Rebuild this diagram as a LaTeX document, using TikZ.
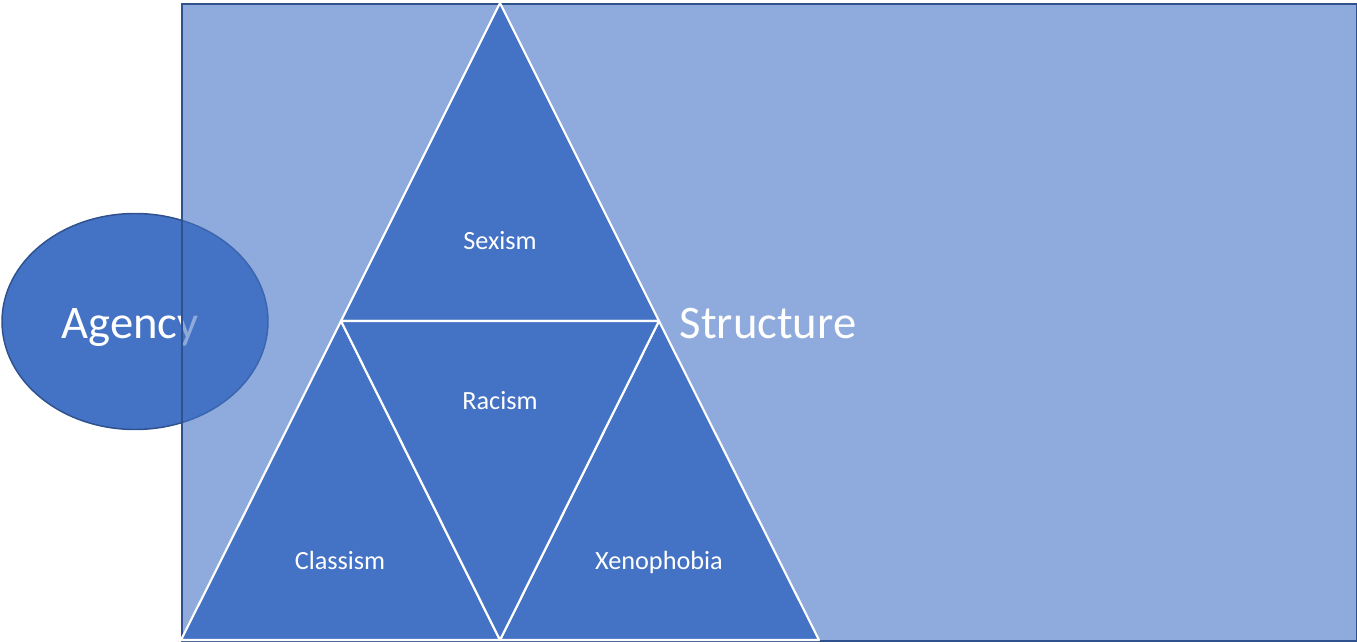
\documentclass[tikz,border=0pt]{standalone}
\usepackage{fontspec}
\setmainfont{Carlito}
\usetikzlibrary{shapes.geometric, positioning}
\definecolor{accent}{HTML}{4472C4}
\definecolor{edgeblue}{HTML}{2F528F}
\tikzset{
x=0.75pt, y=-0.75pt, % one unit is one pixel of the reference
panel/.style={draw=edgeblue, line width=1.6pt, fill=accent, fill opacity=0.6}, % the structure box
wedge/.style={fill=accent, draw=white, line width=1.6pt, line join=round}, % each small triangle
label/.style={text=white, anchor=base, font=\fontsize{19.7}{22}\selectfont}, % text inside triangles
big/.style={text=white, anchor=base, font=\fontsize{35}{40}\selectfont}, % Agency and Structure
}

\begin{document}
\begin{tikzpicture}
\useasboundingbox (0,0) rectangle (1357,642);

\node[ellipse, draw=edgeblue, line width=1.1pt, fill=accent, minimum width=199.5pt, minimum height=162pt, inner sep=0] at (135,321.5) (agency) {};
\node[big] at (130,338) (agencytext) {Agency};

\node[panel, rectangle, minimum width=881.5pt, minimum height=477.75pt, inner sep=0, anchor=north west] at (181,3) (box) {};

\coordinate (top) at (500,3);
\coordinate (left) at (181,640);
\coordinate (right) at (819,640);
\coordinate (midl) at (341,321);
\coordinate (midr) at (659,321);
\coordinate (midb) at (500,640);

\draw[wedge] (top) -- (midr) -- (midl) -- cycle;
\draw[wedge] (midl) -- (midb) -- (left) -- cycle;
\draw[wedge] (midr) -- (right) -- (midb) -- cycle;
\draw[wedge] (midl) -- (midr) -- (midb) -- cycle;

\node[label] at (500,249) (sexism) {Sexism};
\node[label] at (500,409) (racism) {Racism};
\node[label] at (340,569) (classism) {Classism};
\node[label] at (659,569) (xeno) {Xenophobia};
\node[big, anchor=base west] at (675,338) (structure) {Structure};
\end{tikzpicture}
\end{document}
